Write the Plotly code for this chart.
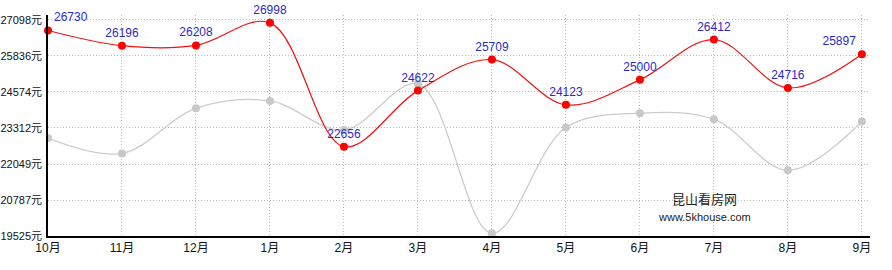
import plotly.graph_objects as go

months = ["10月", "11月", "12月", "1月", "2月", "3月", "4月", "5月", "6月", "7月", "8月", "9月"]
red_values = [26730, 26196, 26208, 26998, 22656, 24622, 25709, 24123, 25000, 26412, 24716, 25897]
gray_values = [22960, 22420, 24000, 24260, 23240, 24850, 19620, 23330, 23830, 23620, 21830, 23540]
y_ticks = [19525, 20787, 22049, 23312, 24574, 25836, 27098]
y_tick_labels = [f"{v}元" for v in y_ticks]

label_pos = ["top right"] + ["top center"] * 10 + ["top left"]

FONT = "Arial, Liberation Sans, Noto Sans CJK SC, sans-serif"

fig = go.Figure()
fig.add_trace(go.Scatter(
    x=list(range(len(months))), y=gray_values, mode="lines+markers",
    line=dict(color="#cccccc", width=1.3, shape="spline", smoothing=1.0),
    marker=dict(color="#c8c8c8", size=8),
    hoverinfo="skip", showlegend=False,
))
fig.add_trace(go.Scatter(
    x=list(range(len(months))), y=red_values, mode="lines+markers+text",
    line=dict(color="#ee1111", width=1.2, shape="spline", smoothing=1.0),
    marker=dict(color="#ff0000", size=8),
    text=[str(v) for v in red_values], textposition=label_pos,
    textfont=dict(color="#2a2acc", size=12, family=FONT),
    cliponaxis=False, showlegend=False,
))

fig.add_annotation(x=0.799, y=0.163, xref="paper", yref="paper", text="昆山看房网",
                   showarrow=False, xanchor="center", yanchor="middle",
                   font=dict(size=13, color="#222222", family=FONT))
fig.add_annotation(x=0.799, y=0.086, xref="paper", yref="paper", text="www.5khouse.com",
                   showarrow=False, xanchor="center", yanchor="middle",
                   font=dict(size=11, color="#222222", family=FONT))

fig.update_layout(
    width=892, height=270,
    margin=dict(l=48, r=22, t=15, b=34),
    paper_bgcolor="white", plot_bgcolor="white",
    font=dict(family=FONT, size=12, color="#111111"),
    xaxis=dict(
        tickmode="array", tickvals=list(range(len(months))), ticktext=months,
        range=[0, 11.11], showgrid=True, gridcolor="#bbbbbb", griddash="1px,2px", gridwidth=1,
        showline=True, linecolor="black", linewidth=1.5, zeroline=False, automargin=False,
        ticks="", tickfont=dict(size=12, color="#111111"),
    ),
    yaxis=dict(
        tickmode="array", tickvals=y_ticks, ticktext=y_tick_labels,
        range=[19525, 27273], showgrid=True, gridcolor="#bbbbbb", griddash="1px,2px", gridwidth=1,
        showline=True, linecolor="black", linewidth=1.5, zeroline=False, automargin=False,
        ticks="", ticklabelstandoff=2, tickfont=dict(size=11, color="#111111"),
    ),
)

fig.write_html("out.html")
